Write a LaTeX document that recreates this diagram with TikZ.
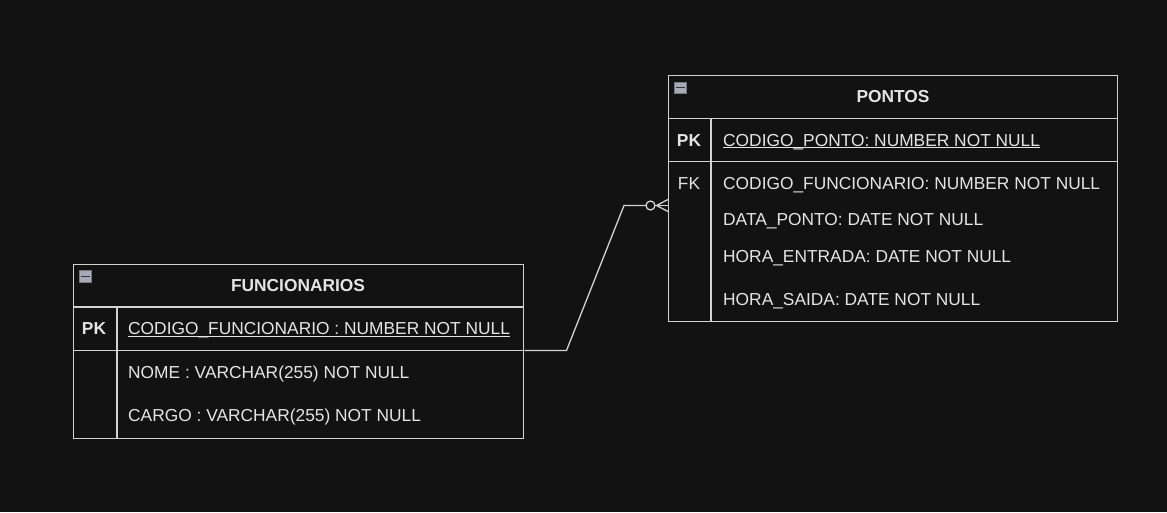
\documentclass[tikz,border=0pt]{standalone}
\usepackage{fontspec}
\setmainfont{Liberation Sans}
\definecolor{bg}{RGB}{18,18,18}
\definecolor{ln}{RGB}{210,210,210}
\definecolor{tx}{RGB}{228,228,228}
\definecolor{icon}{RGB}{168,168,182}
\begin{document}
\begin{tikzpicture}[x=1pt,y=-1pt,
  tbl/.style={draw=ln, line width=1.3pt, inner sep=0pt, anchor=north west},
  grid/.style={draw=ln, line width=1.3pt},
  txt/.style={text=tx, inner sep=0pt, font=\fontsize{17.35}{20}\selectfont},
  rowtxt/.style={txt, anchor=base west},
  keytxt/.style={txt, anchor=base},
  headtxt/.style={txt, anchor=base, font=\fontsize{17.35}{20}\selectfont\bfseries},
  iconbox/.style={fill=icon, draw=icon!70!black, line width=0.6pt},
  conn/.style={draw=ln, line width=1.3pt},
]
\fill[bg] (0,0) rectangle (1167,512);
\useasboundingbox (0,0) rectangle (1167,512);

% ---------- PONTOS ----------
\node[tbl, minimum width=449pt, minimum height=246pt] (pontos) at (668,75) {};
\draw[grid] (668,118.5) -- (1117,118.5);
\draw[grid] (668,161.5) -- (1117,161.5);
\draw[grid] (711,118.5) -- (711,321);
\filldraw[iconbox] (674.5,82) rectangle (686.5,93.5);
\draw[black!80, line width=1.2pt] (676,87.7) -- (685,87.7);
\node[headtxt] (pt) at (893,102) {PONTOS};
\node[keytxt, font=\fontsize{17.35}{20}\selectfont\bfseries] (ppk) at (689,146) {PK};
\node[rowtxt] (p1) at (723,146) {CODIGO\_PONTO: NUMBER NOT NULL};
\draw[tx, line width=1pt] ([yshift=-1.7pt]p1.base west) -- ([yshift=-1.7pt]p1.base east);
\node[keytxt] (pfk) at (689,189) {FK};
\node[rowtxt] (p2) at (723,189) {CODIGO\_FUNCIONARIO: NUMBER NOT NULL};
\node[rowtxt] (p3) at (723,225) {DATA\_PONTO: DATE NOT NULL};
\node[rowtxt] (p4) at (723,262) {HORA\_ENTRADA: DATE NOT NULL};
\node[rowtxt] (p5) at (723,305) {HORA\_SAIDA: DATE NOT NULL};

% ---------- FUNCIONARIOS ----------
\node[tbl, minimum width=450pt, minimum height=173.5pt] (func) at (73,264) {};
\draw[grid] (73,307) -- (523,307);
\draw[grid] (73,350.5) -- (523,350.5);
\draw[grid] (117,307) -- (117,437.5);
\filldraw[iconbox] (79.5,270.5) rectangle (91.5,282);
\draw[black!80, line width=1.2pt] (81,276.2) -- (90,276.2);
\node[headtxt] (ft) at (298,291) {FUNCIONARIOS};
\node[keytxt, font=\fontsize{17.35}{20}\selectfont\bfseries] (fpk) at (94,334.5) {PK};
\node[rowtxt] (f1) at (128,334.5) {CODIGO\_FUNCIONARIO : NUMBER NOT NULL};
\draw[tx, line width=1pt] ([yshift=-1.7pt]f1.base west) -- ([yshift=-1.7pt]f1.base east);
\node[rowtxt] (f2) at (128,378) {NOME : VARCHAR(255) NOT NULL};
\node[rowtxt] (f3) at (128,421) {CARGO : VARCHAR(255) NOT NULL};

% ---------- connector ----------
\coordinate (cstart) at (func.east |- 0,350.5);
\coordinate (cend) at (pontos.west |- 0,205.5);
\draw[conn] (cstart) -- (566.5,350.5) -- (624,205.5) -- (646,205.5);
\draw[conn, fill=bg] (650.5,205.5) circle (4.5pt);
\draw[conn] (655,205.5) -- (cend);
\draw[conn] (656.5,205.5) -- ([yshift=-6pt]cend);
\draw[conn] (656.5,205.5) -- ([yshift=6pt]cend);
\end{tikzpicture}
\end{document}
